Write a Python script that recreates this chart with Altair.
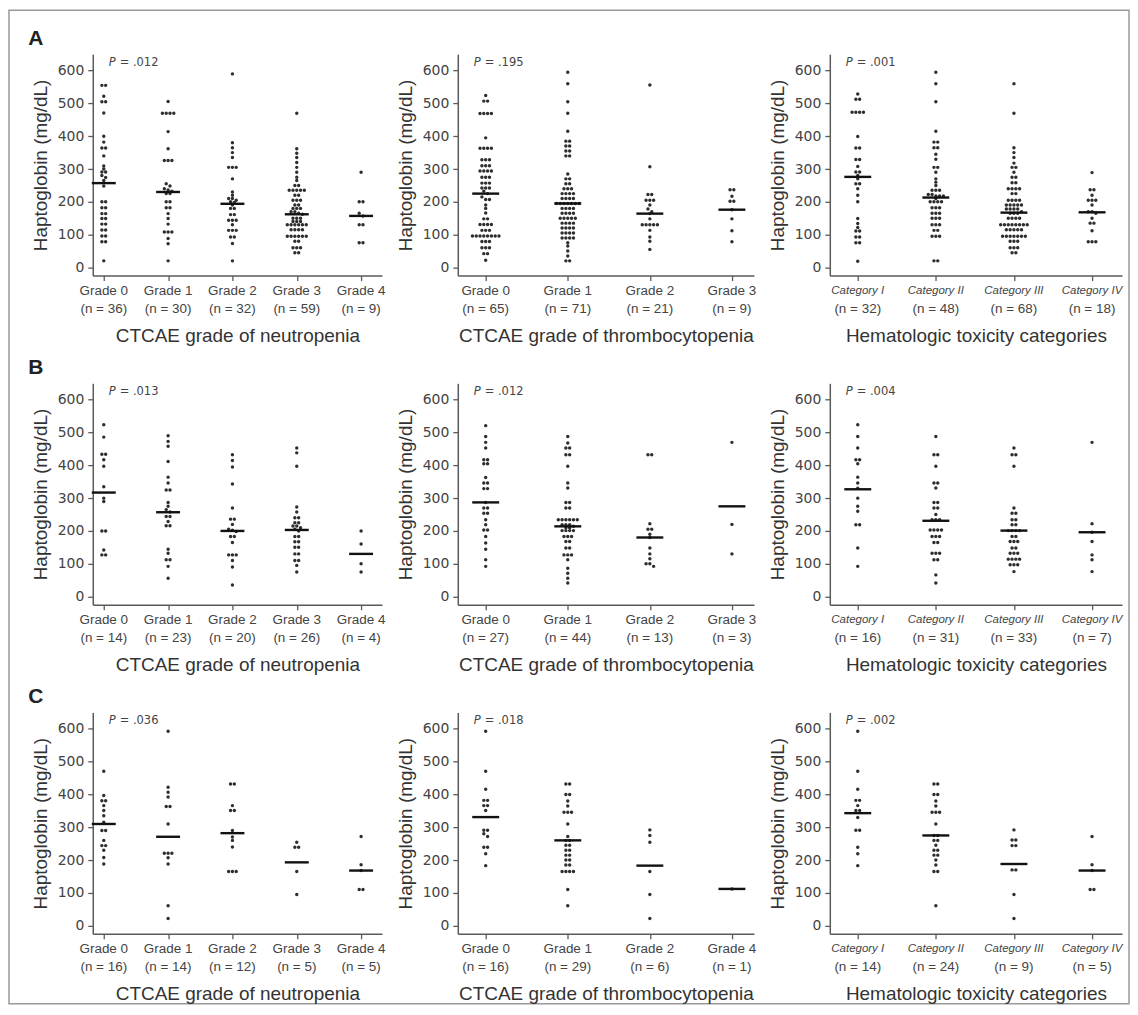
import altair as alt
import pandas as pd

# ---------------- data ----------------
NEUT_GRADES = ["Grade 0", "Grade 1", "Grade 2", "Grade 3", "Grade 4"]
THROMBO_GRADES = ["Grade 0", "Grade 1", "Grade 2", "Grade 3"]
THROMBO_GRADES_C = ["Grade 0", "Grade 1", "Grade 2", "Grade 4"]
TOX_CATEGORIES = ["Category I", "Category II", "Category III", "Category IV"]
X_TITLES = ["CTCAE grade of neutropenia", "CTCAE grade of thrombocytopenia",
            "Hematologic toxicity categories"]
ROW_LETTERS = ["A", "B", "C"]
Y_TITLE = "Haptoglobin (mg/dL)"
Y_TICKS = [0, 100, 200, 300, 400, 500, 600]

P_VALUES = [[".012", ".195", ".001"],
            [".013", ".012", ".004"],
            [".036", ".018", ".002"]]

N_COUNTS = [[[36, 30, 32, 59, 9], [65, 71, 21, 9], [32, 48, 68, 18]],
            [[14, 23, 20, 26, 4], [27, 44, 13, 3], [16, 31, 33, 7]],
            [[16, 14, 12, 5, 5], [16, 29, 6, 1], [14, 24, 9, 5]]]

MEDIANS = [[[257, 230, 194, 162, 157], [225, 195, 164, 176], [276, 213, 167, 168]],
           [[317, 257, 200, 203, 130], [287, 214, 180, 275], [327, 231, 201, 196]],
           [[310, 271, 282, 193, 168], [331, 260, 183, 112], [343, 275, 188, 168]]]

# Row A
A_NEUT = [
    [555, 555, 522, 505, 505, 471, 400, 382, 364, 364, 340, 309, 300, 291, 291, 280, 274, 265,
     248, 200, 200, 182, 182, 164, 164, 149, 149, 132, 132, 114, 114, 96, 96, 78, 78, 20],
    [506, 470, 470, 470, 470, 414, 362, 326, 326, 326, 255, 248, 240, 236, 232,
     225, 225, 200, 200, 182, 182, 164, 149, 132, 108, 108, 108, 88, 72, 20],
    [590, 380, 365, 350, 335, 305, 305, 305, 270, 230, 220, 210, 210, 205, 200, 198,
     190, 180, 180, 161, 161, 144, 144, 144, 130, 113, 113, 113, 93, 93, 73, 20],
    [470, 362, 348, 335, 320, 305, 290, 275, 265, 250, 250, 235, 235, 235, 235, 235,
     220, 220, 205, 205, 205, 190, 190, 180, 180, 180, 170, 170, 165, 162,
     150, 150, 150, 140, 140, 140, 130, 130, 130, 130, 130, 130, 115, 115, 115, 115,
     95, 95, 95, 95, 95, 95, 80, 80, 60, 60, 60, 45, 45],
    [290, 200, 200, 165, 157, 130, 130, 75, 75],
]
A_THROMBO = [
    [524, 507, 507, 469, 469, 469, 469, 395, 363, 363, 363, 363, 328, 328, 328, 310, 310, 310,
     294, 294, 294, 294, 275, 275, 275, 257, 257, 257, 242, 242, 242, 232, 225,
     215, 207, 207, 190, 180, 166, 148, 148, 131, 131, 131, 131, 113, 113, 113,
     96, 96, 96, 96, 96, 96, 96, 96, 79, 79, 79, 60, 60, 60, 42, 42, 22],
    [20, 20, 35, 50, 65, 75, 90, 90, 90, 90, 105, 105, 105, 105, 120, 120, 120, 120,
     135, 135, 135, 135, 150, 150, 150, 150, 150, 165, 165, 165, 165, 180, 180, 180, 180,
     195, 195, 195, 195, 195, 195, 195, 210, 210, 210, 210, 225, 225, 225, 225,
     240, 240, 240, 255, 255, 270, 270, 285, 340, 340, 355, 355, 370, 370, 385, 385,
     415, 470, 505, 560, 595],
    [556, 307, 222, 222, 205, 205, 205, 190, 178, 170, 164, 148, 130, 130, 130, 130, 130,
     113, 93, 80, 55],
    [237, 237, 217, 202, 202, 176, 148, 112, 78],
]
A_TOX = [
    [529, 513, 513, 473, 473, 473, 473, 399, 364, 364, 329, 329, 308, 291, 291, 280,
     270, 255, 255, 240, 220, 200, 149, 134, 122, 111, 111, 93, 93, 75, 75, 19],
    [595, 560, 505, 415, 382, 382, 365, 365, 345, 330, 305, 305, 290, 270, 260, 250,
     235, 235, 235, 222, 222, 218, 218, 218,
     210, 200, 200, 200, 200, 182, 182, 182, 165, 165, 165, 150, 150, 150,
     130, 130, 130, 113, 113, 95, 95, 95, 20, 20],
    [560, 470, 365, 350, 335, 318, 305, 305, 290, 275, 275, 258, 258, 240, 240, 240, 240,
     225, 225, 205, 205, 205, 205, 190, 190, 190, 190, 190, 178, 178, 178, 178, 170, 165,
     165, 165, 150, 150, 150, 150, 130, 130, 130, 130, 130, 130, 130, 130,
     115, 115, 115, 115, 115, 95, 95, 95, 95, 95, 95, 95, 80, 80, 80, 60, 60, 60, 45, 45],
    [289, 237, 237, 220, 205, 205, 205, 190, 170, 170, 165, 150, 135, 135, 112, 78, 78, 78],
]
# Row B
B_NEUT = [
    [524, 486, 434, 434, 417, 397, 335, 300, 290, 200, 200, 142, 127, 127],
    [490, 473, 458, 412, 364, 346, 325, 325, 287, 275, 265, 258, 244, 244, 229, 216, 216,
     144, 132, 112, 112, 92, 56],
    [432, 415, 395, 343, 270, 236, 236, 220, 205, 202, 198, 183, 183, 165, 127, 127, 127,
     110, 90, 35],
    [453, 438, 397, 273, 258, 240, 240, 225, 225, 215, 215, 210, 205, 200, 183, 183, 167, 167,
     150, 150, 130, 130, 110, 110, 95, 75],
    [200, 160, 100, 75],
]
B_THROMBO = [
    [521, 488, 470, 453, 417, 417, 405, 405, 363, 346, 346, 329, 329, 287,
     270, 270, 254, 254, 234, 219, 203, 203, 183, 163, 144, 112, 92],
    [488, 468, 453, 453, 432, 432, 397, 346, 331, 287, 287, 270, 270, 234, 234, 234, 234, 234,
     234, 219, 219, 219, 214, 210, 210, 201, 201, 201, 201, 183, 183, 183, 168, 168, 148, 148,
     127, 127, 127, 112, 86, 71, 56, 41],
    [432, 432, 222, 205, 205, 190, 180, 148, 130, 115, 100, 100, 92],
    [470, 220, 130],
]
B_TOX = [
    [524, 488, 453, 417, 417, 405, 364, 346, 330, 300, 275, 260, 219, 219, 148, 92],
    [488, 432, 432, 397, 346, 346, 331, 287, 287, 270, 270, 250, 234, 234, 234, 203, 203, 203,
     203, 183, 183, 183, 165, 165, 132, 132, 132, 112, 112, 66, 41],
    [453, 432, 432, 397, 270, 254, 254, 234, 234, 219, 219, 201, 201, 201, 201, 183, 183,
     168, 168, 168, 148, 148, 132, 132, 132, 114, 114, 114, 114, 97, 97, 97, 76],
    [470, 222, 196, 168, 127, 112, 76],
]
# Row C
C_NEUT = [
    [471, 397, 381, 381, 366, 351, 335, 315, 290, 290, 260, 244, 244, 230, 208, 188],
    [593, 422, 407, 392, 363, 363, 310, 221, 221, 221, 207, 188, 61, 22],
    [432, 432, 366, 351, 351, 290, 270, 260, 240, 165, 165, 165],
    [254, 239, 239, 165, 95],
    [272, 186, 168, 110, 110],
]
C_THROMBO = [
    [593, 471, 416, 382, 382, 366, 366, 351, 291, 291, 280, 272, 239, 239, 219, 183],
    [432, 432, 400, 400, 380, 365, 346, 346, 346, 310, 272, 260, 260, 245, 245, 230, 230,
     215, 215, 200, 200, 185, 185, 165, 165, 165, 165, 110, 61],
    [292, 275, 254, 165, 95, 22],
    [112],
]
C_TOX = [
    [593, 471, 416, 382, 382, 366, 351, 351, 330, 291, 291, 239, 219, 183],
    [432, 432, 400, 400, 380, 365, 346, 346, 346, 310, 275, 275, 260, 260, 245, 230, 230,
     215, 215, 200, 185, 165, 165, 61],
    [292, 261, 261, 244, 244, 170, 170, 95, 22],
    [272, 186, 168, 110, 110],
]

VALUES = [[A_NEUT, A_THROMBO, A_TOX], [B_NEUT, B_THROMBO, B_TOX], [C_NEUT, C_THROMBO, C_TOX]]
CATEGORIES = [[NEUT_GRADES, THROMBO_GRADES, TOX_CATEGORIES],
              [NEUT_GRADES, THROMBO_GRADES, TOX_CATEGORIES],
              [NEUT_GRADES, THROMBO_GRADES_C, TOX_CATEGORIES]]

# ---------------- styling / layout ----------------
COL_W = [290, 297, 293]
COL_DOMAIN = [(-0.171, 4.325), (-0.340, 3.269), (-0.358, 3.384)]
PLOT_H = 222
Y_DOMAIN = [-25, 650]
DOT_STEP = 3.8      # px between neighbouring dots in a row
ROW_TOL = 8         # mg/dL: values this close share a dot row
MED_HALF = [12, 13.5, 13.5]  # px half-width of median bars
AX = "#5a5a5a"
DOT = "#2e2e2e"
TXT = "#444444"
SANS = "'Liberation Sans', Arial, sans-serif"
WIDE = "'DejaVu Sans', Verdana, sans-serif"


def dots_frame(groups, ppu):
    recs = []
    for gi, vals in enumerate(groups):
        clusters = []
        for v in sorted(vals, reverse=True):
            if clusters and clusters[-1][0] - v <= ROW_TOL:
                clusters[-1].append(v)
            else:
                clusters.append([v])
        for cl in clusters:
            k = len(cl)
            for j, v in enumerate(cl):
                recs.append({"x": gi + (j - (k - 1) / 2) * DOT_STEP / ppu, "y": v})
    return pd.DataFrame(recs)


def panel(r, c):
    groups = VALUES[r][c]
    cats = CATEGORIES[r][c]
    lo, hi = COL_DOMAIN[c]
    w = COL_W[c]
    ppu = w / (hi - lo)
    xs = alt.Scale(domain=[lo, hi], nice=False, zero=False)
    ys = alt.Scale(domain=Y_DOMAIN, nice=False, zero=False)
    xax = alt.Axis(values=list(range(len(cats))), labels=False, grid=False,
                   tickSize=5, tickColor=AX, tickWidth=1.3, domainColor=AX, domainWidth=1.5,
                   title=X_TITLES[c], titleFont=SANS, titleFontSize=19,
                   titleFontWeight="normal", titleColor="#333333", titlePadding=45)
    yax = alt.Axis(values=Y_TICKS, grid=False, tickSize=5, tickColor=AX, tickWidth=1.3,
                   domainColor=AX, domainWidth=1.5, labelFont=WIDE, labelFontSize=14,
                   labelColor=TXT, labelPadding=4, title=Y_TITLE, titleFont=SANS,
                   titleFontSize=19, titleFontWeight="normal", titleColor="#333333",
                   titlePadding=7)
    X = alt.X("x:Q", scale=xs, axis=xax)
    Y = alt.Y("y:Q", scale=ys, axis=yax)

    layers = []
    if r == 0 and c == 0:
        frame = alt.Chart(pd.DataFrame({"f": [0]})).mark_rect(
            filled=False, stroke="#9a9a9a", strokeWidth=1.5
        ).encode(x=alt.value(-84), x2=alt.value(1039), y=alt.value(-44), y2=alt.value(952))
        layers.append(frame)

    pts = alt.Chart(dots_frame(groups, ppu)).mark_circle(
        size=12, color=DOT, opacity=1).encode(x=X, y=Y)

    meds = MEDIANS[r][c]
    med_df = pd.DataFrame({
        "x": [i - MED_HALF[c] / ppu for i in range(len(meds))],
        "x2": [i + MED_HALF[c] / ppu for i in range(len(meds))],
        "y": meds,
    })
    med = alt.Chart(med_df).mark_rule(color="#111111", strokeWidth=2.4).encode(
        x=X, x2="x2:Q", y=Y)

    lab_df = pd.DataFrame({
        "x": list(range(len(cats))),
        "cat": cats,
        "n": [f"(n = {n})" for n in N_COUNTS[r][c]],
    })
    italic = "italic" if c == 2 else "normal"
    cat_size = 11.5 if c == 2 else 13.5
    lab1 = alt.Chart(lab_df).mark_text(
        font=SANS, fontSize=cat_size, color=TXT, fontStyle=italic, baseline="middle"
    ).encode(x=X, y=alt.value(PLOT_H + 15), text="cat:N")
    lab2 = alt.Chart(lab_df).mark_text(
        font=SANS, fontSize=13.5, color=TXT, baseline="middle"
    ).encode(x=X, y=alt.value(PLOT_H + 33), text="n:N")

    p_df = pd.DataFrame({"p": ["P"], "v": ["= " + P_VALUES[r][c]]})
    p1 = alt.Chart(p_df).mark_text(
        font=WIDE, fontSize=11.5, fontStyle="italic", color=TXT, align="left", baseline="middle"
    ).encode(x=alt.value(16), y=alt.value(9), text="p:N")
    p2 = alt.Chart(p_df).mark_text(
        font=WIDE, fontSize=11.5, color=TXT, align="left", baseline="middle"
    ).encode(x=alt.value(27), y=alt.value(9), text="v:N")

    layers += [pts, med, lab1, lab2, p1, p2]
    if c == 0:
        let_df = pd.DataFrame({"t": [ROW_LETTERS[r]]})
        letter = alt.Chart(let_df).mark_text(
            font=SANS, fontSize=21, fontWeight="bold", color="#222222",
            align="center", baseline="middle"
        ).encode(x=alt.value(-57), y=alt.value(-15), text="t:N")
        layers.append(letter)
    return alt.layer(*layers).properties(width=w, height=PLOT_H)


panels = [panel(r, c) for r in range(3) for c in range(3)]
chart = alt.concat(
    *panels, columns=3, spacing={"row": 108, "column": 76}, bounds="flush"
).properties(
    background="white", padding={"left": 0, "top": 0, "right": 0, "bottom": 0}
).configure_view(stroke=None)

chart.save("out.html", embed_options={"renderer": "svg", "actions": False})
